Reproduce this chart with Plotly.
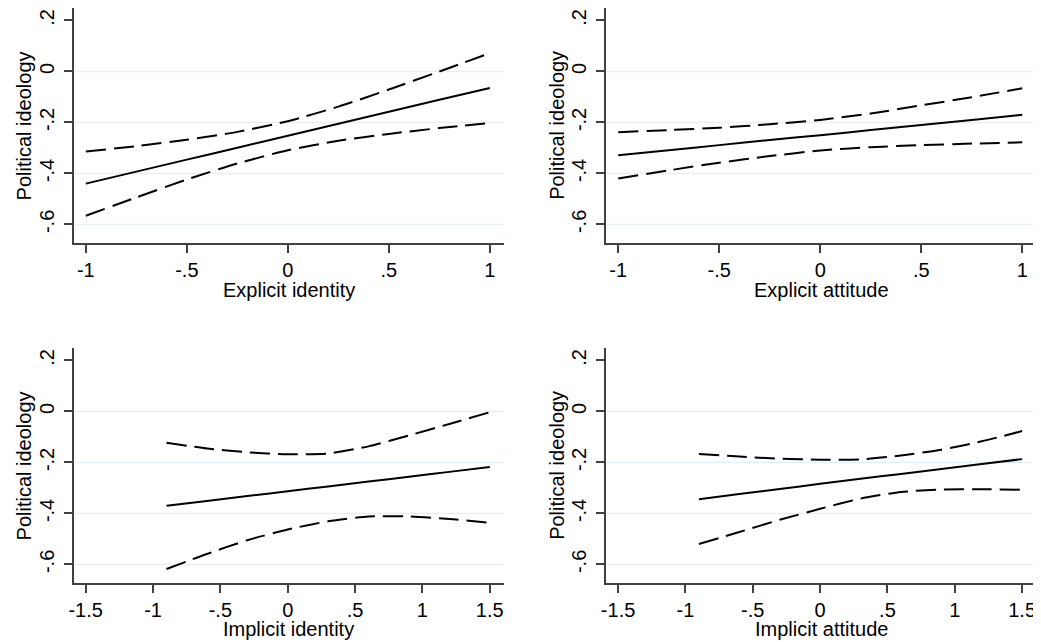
import plotly.graph_objects as go

# ---------------- data ----------------
x_explicit = [-1, -0.75, -0.5, -0.25, 0, 0.25, 0.5, 0.75, 1]
x_implicit = [-0.9, -0.6, -0.3, 0, 0.3, 0.6, 0.9, 1.2, 1.5]

# Explicit identity
ei_fit = [-0.440, -0.393, -0.346, -0.299, -0.252, -0.205, -0.158, -0.111, -0.065]
ei_upper = [-0.314, -0.293, -0.268, -0.237, -0.195, -0.138, -0.071, 0.000, 0.072]
ei_lower = [-0.566, -0.494, -0.424, -0.361, -0.309, -0.272, -0.245, -0.222, -0.202]

# Explicit attitude
ea_fit = [-0.329, -0.309, -0.289, -0.269, -0.250, -0.230, -0.210, -0.190, -0.170]
ea_upper = [-0.238, -0.230, -0.221, -0.207, -0.190, -0.165, -0.133, -0.101, -0.066]
ea_lower = [-0.420, -0.388, -0.358, -0.332, -0.310, -0.297, -0.289, -0.283, -0.278]

# Implicit identity
ii_fit = [-0.370, -0.351, -0.332, -0.313, -0.294, -0.275, -0.256, -0.237, -0.218]
ii_upper = [-0.123, -0.145, -0.160, -0.168, -0.165, -0.137, -0.094, -0.049, -0.003]
ii_lower = [-0.618, -0.559, -0.505, -0.463, -0.431, -0.412, -0.412, -0.422, -0.437]

# Implicit attitude
ia_fit = [-0.344, -0.324, -0.304, -0.284, -0.264, -0.245, -0.226, -0.206, -0.187]
ia_upper = [-0.167, -0.177, -0.185, -0.189, -0.188, -0.173, -0.150, -0.117, -0.077]
ia_lower = [-0.520, -0.473, -0.425, -0.382, -0.342, -0.316, -0.306, -0.305, -0.307]

x_titles = ["Explicit identity", "Explicit attitude", "Implicit identity", "Implicit attitude"]
y_title = "Political ideology"

y_tickvals = [0.2, 0, -0.2, -0.4, -0.6]
y_ticktext = [".2", "0", "-.2", "-.4", "-.6"]
grid_vals = [0, -0.2, -0.4, -0.6]

xe_tickvals = [-1, -0.5, 0, 0.5, 1]
xe_ticktext = ["-1", "-.5", "0", ".5", "1"]
xi_tickvals = [-1.5, -1, -0.5, 0, 0.5, 1, 1.5]
xi_ticktext = ["-1.5", "-1", "-.5", "0", ".5", "1", "1.5"]

# ---------------- layout geometry ----------------
# the page body adds an 8px offset, so the figure is 8px smaller and all
# pixel positions are shifted by -8
OFF = 8
W, H = 1041 - OFF, 642 - OFF
FONT = "Liberation Sans, Arial, sans-serif"
FS = 20
AXCOL = "#404040"
GRIDCOL = "#E6EEF1"

cols_px = [(69 - OFF, 501 - OFF), (604 - OFF, 1036 - OFF)]
rows_px = [(8 - OFF, 243 - OFF), (348 - OFF, 583 - OFF)]
xtitle_y_px = [290 - OFF, 629 - OFF]
ytitle_x_px = [20 - OFF, 555 - OFF]

panels = [
    (x_explicit, ei_fit, ei_upper, ei_lower, 0, 0, "e"),
    (x_explicit, ea_fit, ea_upper, ea_lower, 0, 1, "e"),
    (x_implicit, ii_fit, ii_upper, ii_lower, 1, 0, "i"),
    (x_implicit, ia_fit, ia_upper, ia_lower, 1, 1, "i"),
]

fig = go.Figure()
layout = dict(
    width=W, height=H,
    margin=dict(l=0, r=0, t=0, b=0),
    paper_bgcolor="white", plot_bgcolor="white",
    showlegend=False,
    font=dict(family=FONT, size=FS, color="black"),
    shapes=[], annotations=[],
)

for i, (xs, fit, up, lo, r, c, kind) in enumerate(panels):
    n = i + 1
    xa = "x" if n == 1 else f"x{n}"
    ya = "y" if n == 1 else f"y{n}"
    for ys, dash in ((up, "20px,8px"), (lo, "20px,8px"), (fit, "solid")):
        fig.add_trace(go.Scatter(
            x=xs, y=ys, mode="lines", xaxis=xa, yaxis=ya,
            line=dict(color="black", width=2, dash=dash, shape="spline", smoothing=0.6),
            hoverinfo="skip", cliponaxis=False,
        ))
    x0, x1 = cols_px[c]
    y0, y1 = rows_px[r]
    if kind == "e":
        xr = [-1.06, 1.068]
        tv, tt = xe_tickvals, xe_ticktext
    else:
        xr = [-1.589, 1.603]
        tv, tt = xi_tickvals, xi_ticktext
    axis_common = dict(
        showline=True, linecolor=AXCOL, linewidth=1.5,
        ticks="outside", ticklen=8, tickwidth=1.5, tickcolor=AXCOL,
        showgrid=False, zeroline=False, fixedrange=True,
        tickfont=dict(family=FONT, size=FS, color="black"),
    )
    layout["xaxis" if n == 1 else f"xaxis{n}"] = dict(
        domain=[x0 / W, x1 / W], range=xr, anchor=ya,
        tickvals=tv, ticktext=tt, **axis_common,
    )
    layout["yaxis" if n == 1 else f"yaxis{n}"] = dict(
        domain=[1 - y1 / H, 1 - y0 / H], range=[-0.673, 0.249], anchor=xa,
        tickvals=y_tickvals, ticktext=y_ticktext, tickangle=-90,
        ticklabelstandoff=2, **axis_common,
    )
    for v in grid_vals:
        layout["shapes"].append(dict(
            type="line", xref=f"{xa} domain", x0=0, x1=1, yref=ya, y0=v, y1=v,
            line=dict(color=GRIDCOL, width=1.5), layer="below",
        ))
    layout["annotations"].append(dict(
        text=x_titles[i], xref="paper", yref="paper",
        x=(x0 + x1) / 2 / W, y=1 - xtitle_y_px[r] / H,
        xanchor="center", yanchor="middle", showarrow=False,
        font=dict(family=FONT, size=FS, color="black"),
    ))
    layout["annotations"].append(dict(
        text=y_title, xref="paper", yref="paper",
        x=ytitle_x_px[c] / W, y=1 - (y0 + y1) / 2 / H,
        xanchor="center", yanchor="middle", textangle=-90, showarrow=False,
        font=dict(family=FONT, size=FS, color="black"),
    ))

fig.update_layout(**layout)
fig.write_html("out.html")
